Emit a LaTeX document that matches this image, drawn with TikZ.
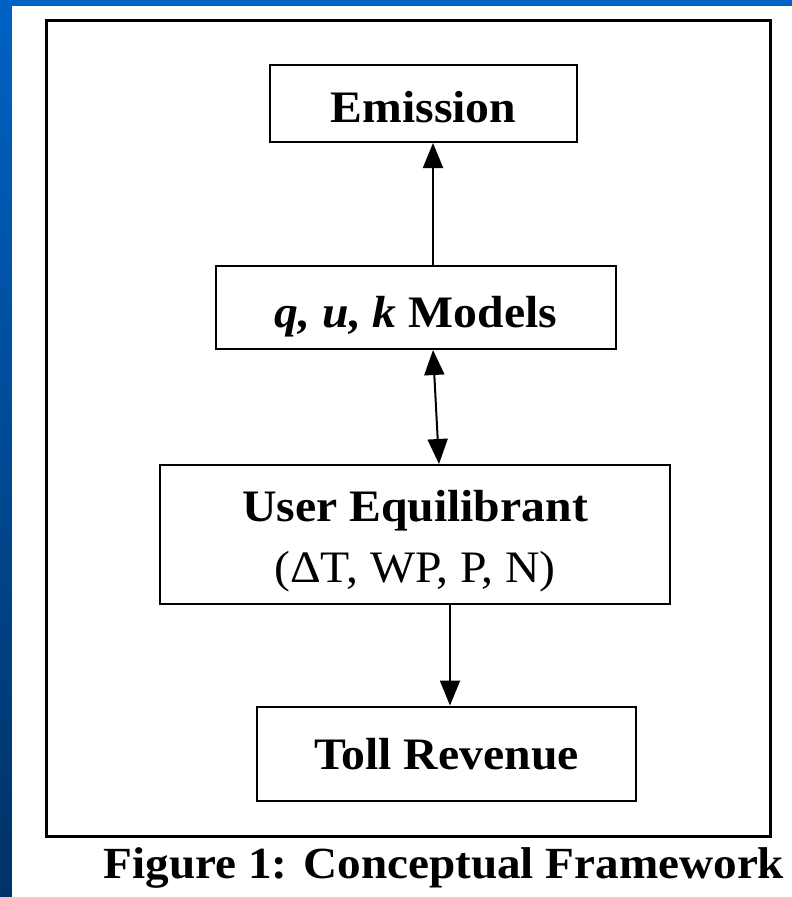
\documentclass[tikz,border=0pt]{standalone}
\usepackage{fontspec}
\setmainfont[FakeStretch=1.06]{Liberation Serif}
\usetikzlibrary{arrows.meta}
\definecolor{bgtop}{HTML}{0062C4}
\definecolor{bgbot}{HTML}{003266}
\newcommand{\dropby}[2]{\raisebox{-#1}[\height][\depth]{#2}}
\tikzset{
  box/.style={draw=black, line width=2pt, rectangle, inner sep=0pt, align=center, font=\fontsize{45}{52}\selectfont\bfseries},
  arr/.style={line width=2pt, -{Triangle[width=20pt,length=25pt]}},
  darr/.style={line width=2pt, {Triangle[width=20pt,length=25pt]}-{Triangle[width=20pt,length=25pt]}},
}
\begin{document}
\begin{tikzpicture}[x=1pt,y=-1pt]
\useasboundingbox (0,0) rectangle (792,897);
\shade[top color=bgtop, bottom color=bgbot] (0,0) rectangle (792,897);
\fill[white] (12,6) rectangle (792,897);
\node[draw=black, line width=3pt, rectangle, minimum width=724pt, minimum height=816pt, inner sep=0pt] (frame) at (408,428) {};
\node[box, minimum width=307pt, minimum height=77pt] (em) at (423.5,103.5) {\dropby{4pt}{Emission}};
\node[box, minimum width=400pt, minimum height=83pt] (mo) at (416,307.5) {\dropby{9pt}{\textit{q, u, k} Models}};
\node[box, minimum width=510pt, minimum height=139pt] (ue) at (415,534.5) {\dropby{7.5pt}{\begin{tabular}{@{}c@{}}User Equilibrant\\[9pt]\mdseries (ΔT, WP, P, N)\end{tabular}}};
\node[box, minimum width=379pt, minimum height=94pt] (tr) at (446.5,753.5) {\dropby{1pt}{Toll Revenue}};
\node[font=\fontsize{44.5}{52}\selectfont\bfseries, anchor=base, inner sep=0pt] (cap) at (444,878) {Figure 1: Conceptual Framework};
\draw[arr] ([xshift=17pt]mo.north) -- ([xshift=9.5pt]em.south);
\draw[darr] ([xshift=17pt]mo.south) -- ([xshift=24pt]ue.north);
\draw[arr] ([xshift=35pt]ue.south) -- ([xshift=3.5pt]tr.north);
\end{tikzpicture}
\end{document}
